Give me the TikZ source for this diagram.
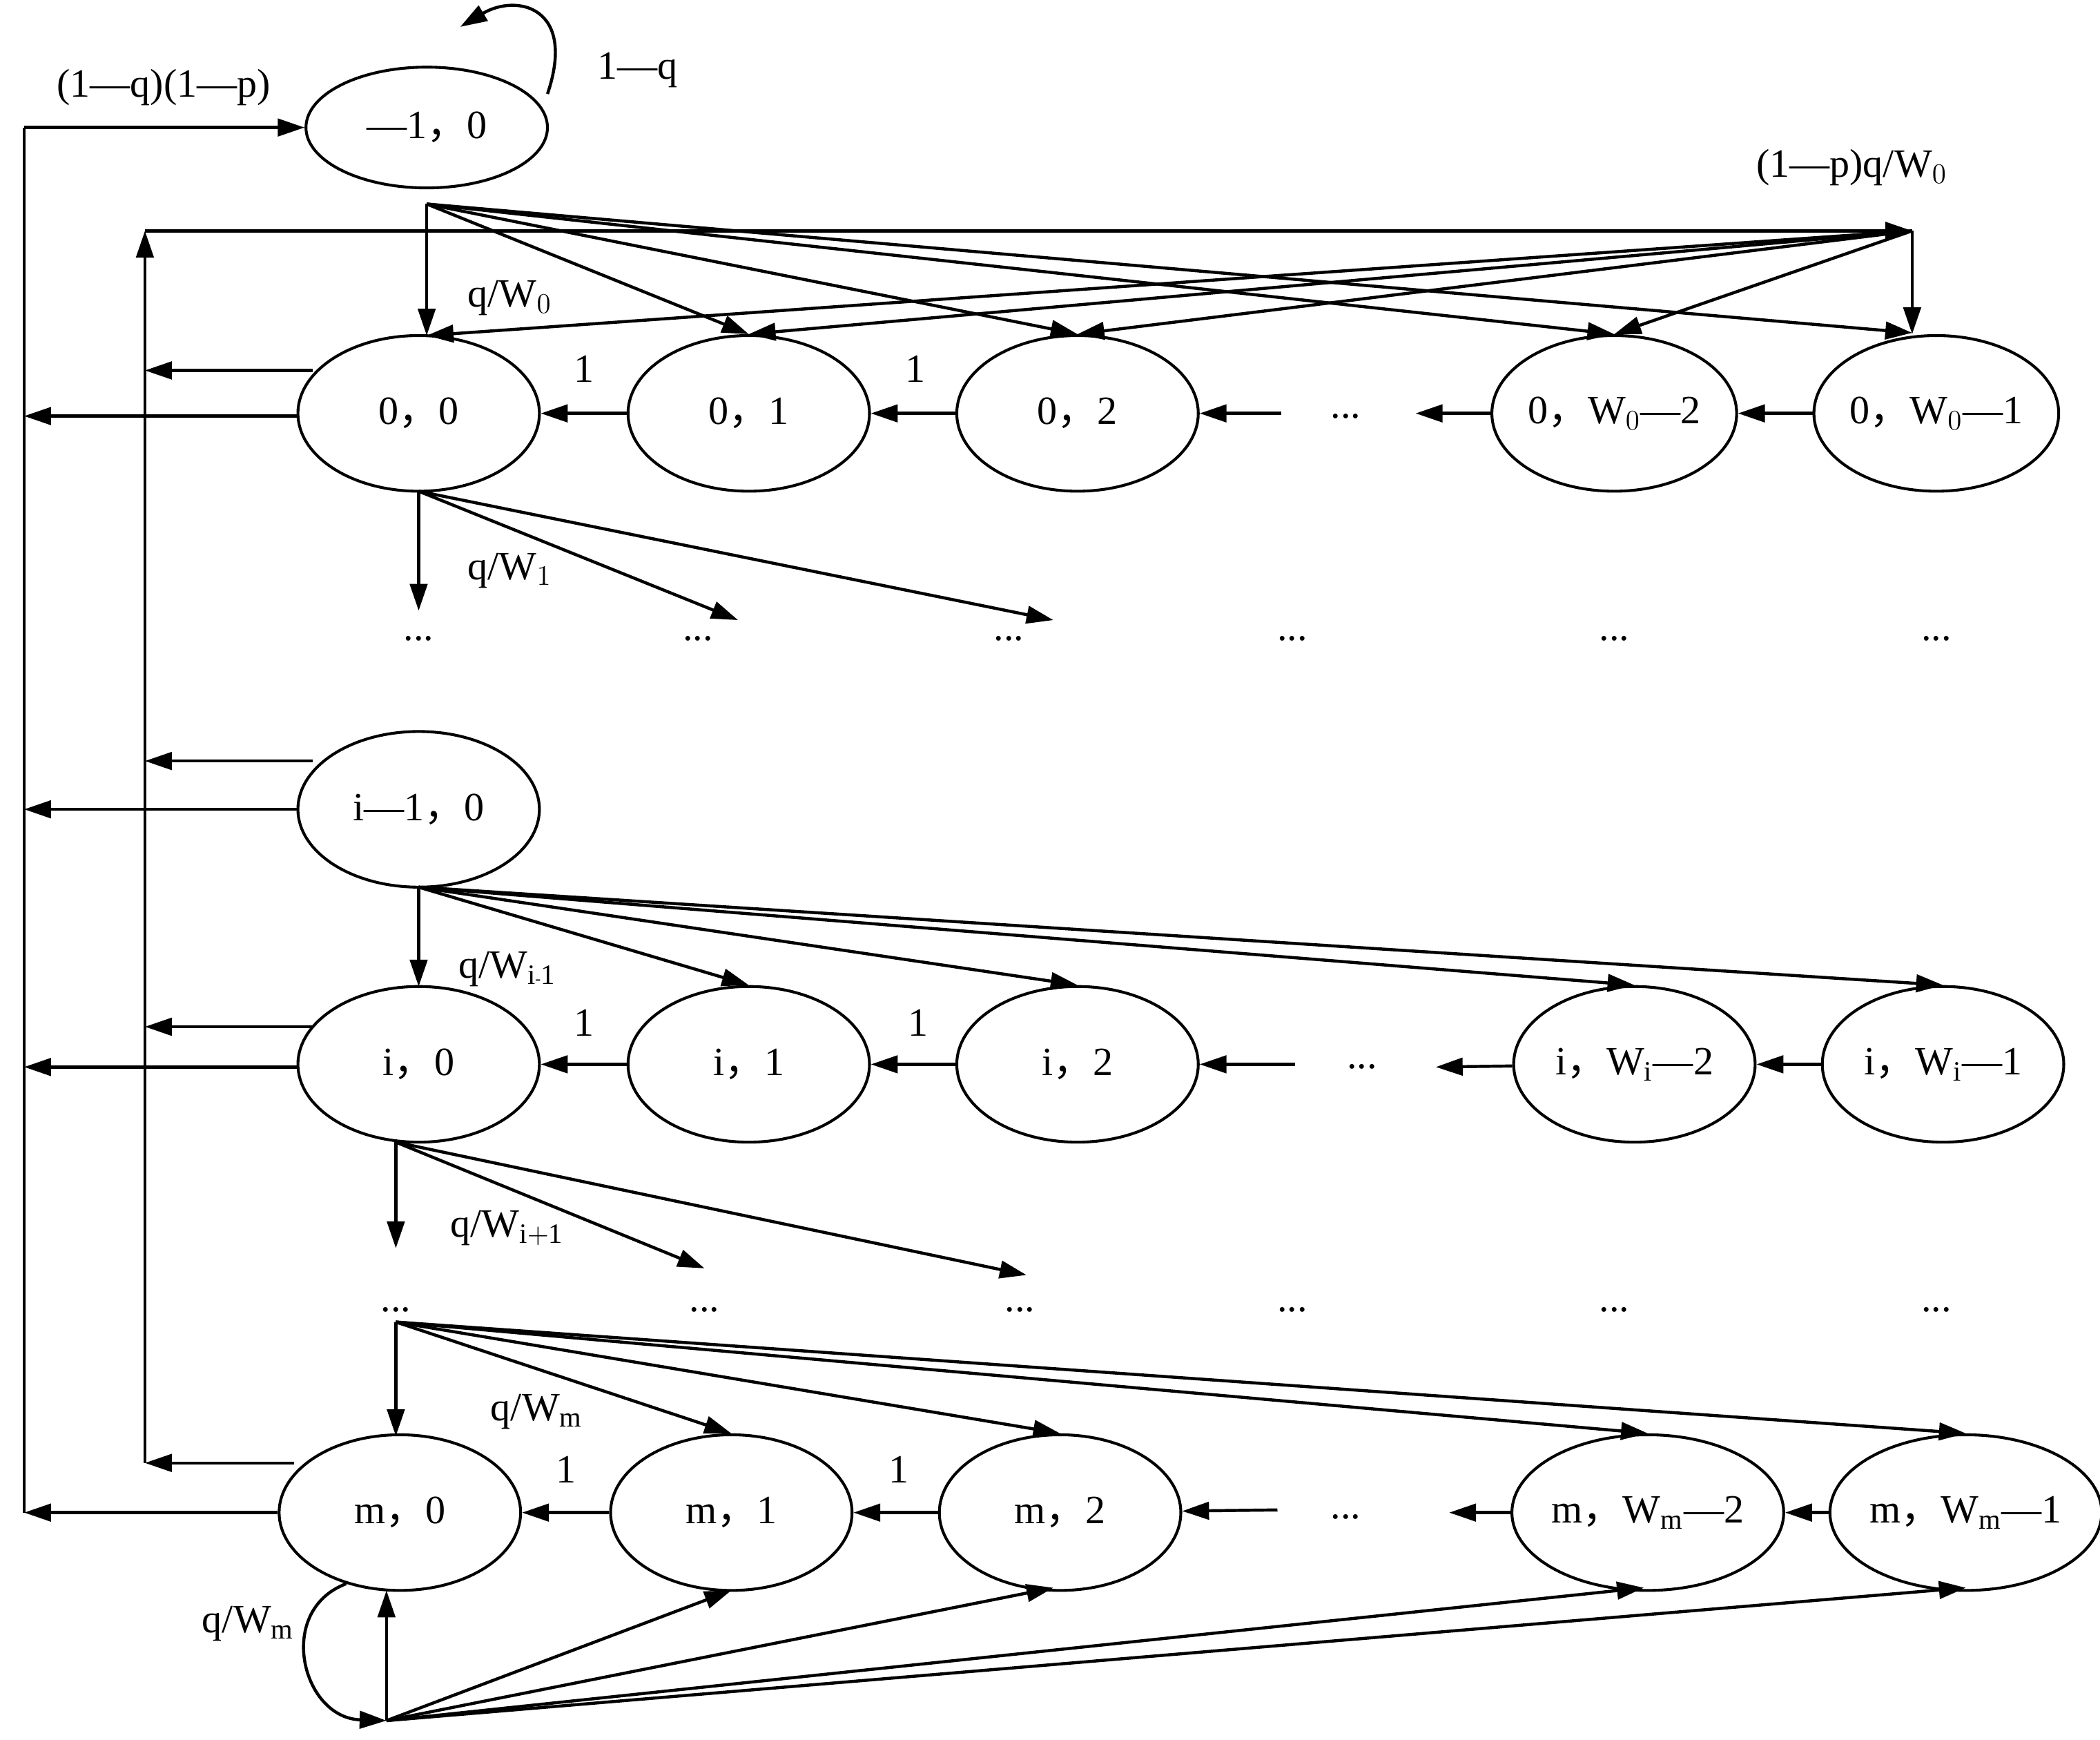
\documentclass[tikz,border=0pt]{standalone}
\usepackage{fontspec}
\setmainfont{Liberation Serif}
\newfontfamily\cjk{Noto Sans CJK SC}
\usetikzlibrary{arrows.meta,shapes.geometric}
\newcommand{\cm}{{\cjk ，}}
\begin{document}
\begin{tikzpicture}[x=0.02cm,y=-0.02cm,
 st/.style={ellipse,draw,line width=1.2pt,minimum width=3.6cm,minimum height=2.32cm,inner sep=0pt,font=\fontsize{17}{19}\selectfont},
 ar/.style={line width=1.3pt,-{Triangle[length=4mm,width=2.6mm]}},
 ln/.style={line width=1.3pt},
 lb/.style={font=\fontsize{17}{19}\selectfont,inner sep=1pt},
 dt/.style={font=\fontsize{17}{19}\selectfont,inner sep=0pt}]
\useasboundingbox (0,0) rectangle (1565,1296);
% nodes
\node[st,minimum height=1.8cm] (s) at (318,95) {—1\cm0};
\node[st] (a0) at (312,308) {0\cm0};
\node[st] (a1) at (558,308) {0\cm1};
\node[st] (a2) at (803,308) {0\cm2};
\node[st] (a3) at (1203,308) {0\cm W$_0$—2};
\node[st] (a4) at (1443,308) {0\cm W$_0$—1};
\node[st] (h) at (312,603) {i—1\cm0};
\node[st] (b0) at (312,793) {i\cm0};
\node[st] (b1) at (558,793) {i\cm1};
\node[st] (b2) at (803,793) {i\cm2};
\node[st] (b3) at (1218,793) {i\cm W$_\mathrm{i}$—2};
\node[st] (b4) at (1448,793) {i\cm W$_\mathrm{i}$—1};
\node[st] (c0) at (298,1127) {m\cm0};
\node[st] (c1) at (545,1127) {m\cm1};
\node[st] (c2) at (790,1127) {m\cm2};
\node[st] (c3) at (1228,1127) {m\cm W$_\mathrm{m}$—2};
\node[st] (c4) at (1465,1127) {m\cm W$_\mathrm{m}$—1};
% dots
\node[dt] (da) at (1003,310) {...};
\node[dt] (db) at (1015,795) {...};
\node[dt] (dc) at (1003,1130) {...};
\foreach \x/\n in {312/p0,520/p1,752/p2,963/p3,1203/p4,1443/p5}{\node[dt] (\n) at (\x,476) {...};}
\foreach \x/\n in {295/q0,525/q1,760/q2,963/q3,1203/q4,1443/q5}{\node[dt] (\n) at (\x,976) {...};}
% coordinates
\coordinate (T) at (1425,172);
\coordinate (Tl) at (108,172);
\coordinate (B) at (288,1282);
\coordinate (Q) at (295,985);
\coordinate (L0) at (18,95);
\coordinate (L1) at (18,1127);
% outer left loop
\draw[ln] (L1) -- (L0);
\draw[ar] (L0) -- (s.west);
\node[lb] at (122,65) {(1—q)(1—p)};
\foreach \n/\y in {a0/310,h/603,b0/795,c0/1127}{\draw[ar] (\n.west |- 0,\y) -- (18,\y);}
% inner loop
\draw[ar] (108,1090) -- (Tl);
\draw[ar] (Tl) -- (T);
\foreach \n/\y in {a0/276,h/567,b0/765,c0/1090}{\draw[ar] (\n.west |- 0,\y) ++(12,0) -- (108,\y);}
\node[lb] at (1380,125) {(1—p)q/W$_0$};
\draw[ar] (T) -- (a4.north -| T);
\foreach \n in {a3,a2,a1}{\draw[ar] (T) -- (\n.north);}
\draw[ar] (T) -- (318,250);
% self loop
\draw[ar] (408,70) .. controls (430,5) and (385,-5) .. (343,20);
\node[lb] at (475,52) {1—q};
% from s
\draw[ar] (318,152) -- (318,250);
\node[lb] at (380,222) {q/W$_0$};
\foreach \n in {a1,a2,a3}{\draw[ar] (318,152) -- (\n.north);}
\draw[ar] (318,152) -- (1425,248);
% row chains
\draw[ar] (a1) -- (a0); \node[lb] at (435,275) {1};
\draw[ar] (a2) -- (a1); \node[lb] at (682,275) {1};
\draw[ar] (955,308) -- (a2);
\draw[ar] (a3) -- (1055,308);
\draw[ar] (a4) -- (a3);
\draw[ar] (b1) -- (b0); \node[lb] at (435,762) {1};
\draw[ar] (b2) -- (b1); \node[lb] at (684,762) {1};
\draw[ar] (965,793) -- (b2);
\draw[ar] (b3) -- (1070,795);
\draw[ar] (b4) -- (b3);
\draw[ar] (c1) -- (c0); \node[lb] at (422,1095) {1};
\draw[ar] (c2) -- (c1); \node[lb] at (670,1095) {1};
\draw[ar] (952,1125) -- (c2);
\draw[ar] (c3) -- (1080,1127);
\draw[ar] (c4) -- (c3);
% from a0 down
\draw[ar] (312,366) -- (312,455);
\node[lb] at (380,425) {q/W$_1$};
\draw[ar] (312,366) -- (550,462);
\draw[ar] (312,366) -- (785,462);
% from h
\draw[ar] (312,661) -- (312,735);
\node[lb] at (378,722) {q/W$_{\mathrm{i}\mbox{\scriptsize -}\mathrm{1}}$};
\foreach \n in {b1,b2,b3,b4}{\draw[ar] (312,661) -- (\n.north);}
% from b0
\draw[ar] (295,851) -- (295,930);
\node[lb] at (378,915) {q/W$_{\mathrm{i+1}}$};
\draw[ar] (295,851) -- (525,945);
\draw[ar] (295,851) -- (765,950);
% from Q
\draw[ar] (Q) -- (295,1070);
\node[lb] at (400,1052) {q/W$_\mathrm{m}$};
\foreach \n in {c1,c2,c3,c4}{\draw[ar] (Q) -- (\n.north);}
% bottom
\draw[ar] (B) -- (288,1185);
\draw[ar] (258,1180) .. controls (205,1200) and (225,1280) .. (B);
\node[lb] at (185,1210) {q/W$_\mathrm{m}$};
\draw[ar] (B) -- (545,1185);
\draw[ar] (B) -- (785,1183);
\draw[ar] (B) -- (1225,1183);
\draw[ar] (B) -- (1465,1183);
\end{tikzpicture}
\end{document}
